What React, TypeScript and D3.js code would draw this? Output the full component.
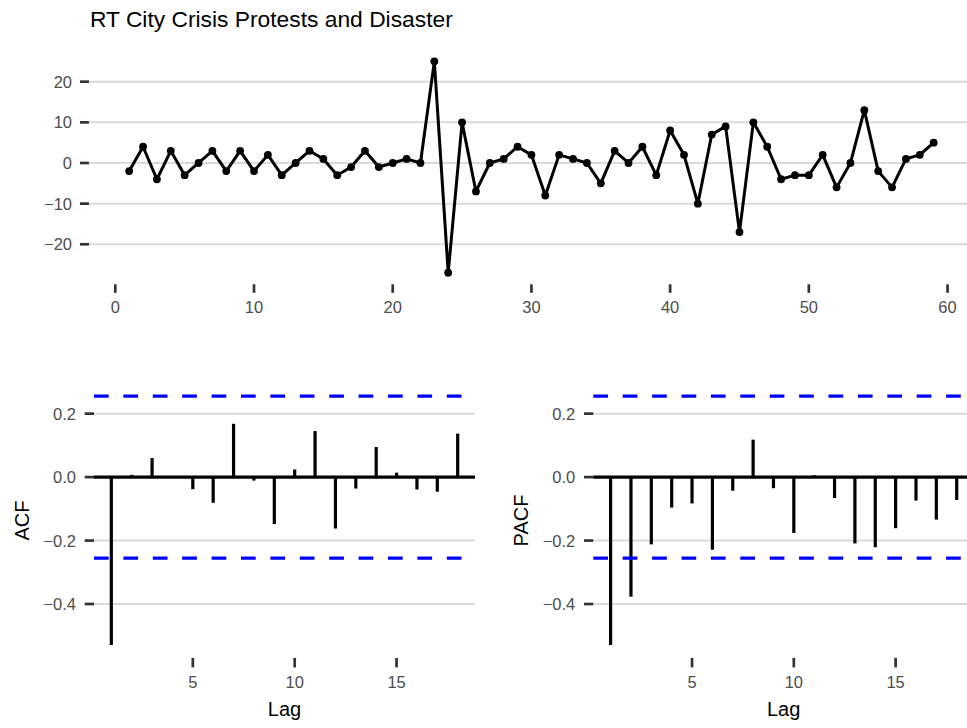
import React from "react";
import * as d3 from "d3";

const title = "RT City Crisis Protests and Disaster";
const seriesValues: number[] = [
  -2, 4, -4, 3, -3, 0, 3, -2, 3, -2,
  2, -3, 0, 3, 1, -3, -1, 3, -1, 0,
  1, 0, 25, -27, 10, -7, 0, 1, 4, 2,
  -8, 2, 1, 0, -5, 3, 0, 4, -3, 8,
  2, -10, 7, 9, -17, 10, 4, -4, -3, -3,
  2, -6, 0, 13, -2, -6, 1, 2, 5,
];
const acfValues: number[] = [
  -0.529, 0.007, 0.06, 0.001, -0.038, -0.081, 0.168, -0.011, -0.148,
  0.024, 0.145, -0.162, -0.036, 0.095, 0.014, -0.039, -0.046, 0.137,
];
const pacfValues: number[] = [
  -0.529, -0.377, -0.212, -0.096, -0.083, -0.229, -0.043, 0.118, -0.035,
  -0.176, 0.006, -0.066, -0.209, -0.221, -0.161, -0.074, -0.134, -0.072,
];
const topXTicks = [0, 10, 20, 30, 40, 50, 60];
const topYTicks = [-20, -10, 0, 10, 20];
const lagTicks = [5, 10, 15];
const corrYTicks = [-0.4, -0.2, 0, 0.2];

const FONT = "'Liberation Sans', Arial, Helvetica, sans-serif";
const GRID = "#DADADA";
const TICK = "#333333";
const TICKTXT = "#4D4D4D";

function fmtNum(v: number, digits: number) {
  const s = v.toFixed(digits);
  return s.replace("-", "\u2212");
}

function expand(lo: number, hi: number, f = 0.05): [number, number] {
  const r = hi - lo;
  return [lo - r * f, hi + r * f];
}

function TopPanel() {
  const n = seriesValues.length;
  const xs = seriesValues.map((_, i) => i + 1);
  const x = d3.scaleLinear().domain(expand(1, n)).range([88.95, 973.9]);
  const ext = d3.extent(seriesValues) as [number, number];
  const y = d3.scaleLinear().domain(expand(ext[0], ext[1])).range([283.3, 50.8]);
  const line = d3
    .line<number>()
    .x((_, i) => x(xs[i]))
    .y((d) => y(d));
  const [x0, x1] = x.range();
  const yBottom = y.range()[0];
  return (
    <g>
      {topYTicks.map((t) => (
        <g key={"g" + t}>
          <line x1={x0} x2={x1} y1={y(t)} y2={y(t)} stroke={GRID} strokeWidth={2} />
          <line x1={80} x2={x0} y1={y(t)} y2={y(t)} stroke={TICK} strokeWidth={2.7} />
          <text x={72} y={y(t)} dy="0.36em" textAnchor="end" fontSize={16.5} fill={TICKTXT} fontFamily={FONT}>
            {fmtNum(t, 0)}
          </text>
        </g>
      ))}
      {topXTicks.map((t) => (
        <g key={"x" + t}>
          <line x1={x(t)} x2={x(t)} y1={yBottom + 1} y2={yBottom + 9.5} stroke={TICK} strokeWidth={2.7} />
          <text x={x(t)} y={313} textAnchor="middle" fontSize={16.5} fill={TICKTXT} fontFamily={FONT}>
            {t}
          </text>
        </g>
      ))}
      <path d={line(seriesValues) || ""} fill="none" stroke="#000" strokeWidth={3} strokeLinejoin="round" />
      {seriesValues.map((v, i) => (
        <circle key={i} cx={x(xs[i])} cy={y(v)} r={3.9} fill="#000" />
      ))}
    </g>
  );
}

function CorrPanel({
  values,
  label,
  range,
  labelX,
}: {
  values: number[];
  label: string;
  range: [number, number];
  labelX: number;
}) {
  const nObs = seriesValues.length;
  const ci = 1.96 / Math.sqrt(nObs);
  const lags = values.map((_, i) => i + 1);
  const x = d3.scaleLinear().domain(expand(1, values.length)).range(range);
  const lo = Math.min(d3.min(acfValues)!, d3.min(pacfValues)!, -ci);
  const hi = Math.max(d3.max(acfValues)!, d3.max(pacfValues)!, ci);
  const y = d3.scaleLinear().domain(expand(lo, hi)).range([657.4, 383.7]);
  const [x0, x1] = range;
  const yBottom = y.range()[0];
  return (
    <g>
      {corrYTicks.map((t) => (
        <g key={"g" + t}>
          <line x1={x0} x2={x1} y1={y(t)} y2={y(t)} stroke={GRID} strokeWidth={2} />
          <line x1={x0 - 9.3} x2={x0} y1={y(t)} y2={y(t)} stroke={TICK} strokeWidth={2.7} />
          <text x={x0 - 18} y={y(t)} dy="0.36em" textAnchor="end" fontSize={16.5} fill={TICKTXT} fontFamily={FONT}>
            {fmtNum(t, 1)}
          </text>
        </g>
      ))}
      {lagTicks.map((t) => (
        <g key={"x" + t}>
          <line x1={x(t)} x2={x(t)} y1={yBottom + 0.5} y2={yBottom + 10} stroke={TICK} strokeWidth={2.7} />
          <text x={x(t)} y={688} textAnchor="middle" fontSize={16.5} fill={TICKTXT} fontFamily={FONT}>
            {t}
          </text>
        </g>
      ))}
      <line x1={x0} x2={x1} y1={y(0)} y2={y(0)} stroke="#000" strokeWidth={3.2} />
      {values.map((v, i) => (
        <line key={i} x1={x(lags[i])} x2={x(lags[i])} y1={y(0)} y2={y(v)} stroke="#000" strokeWidth={3.2} />
      ))}
      {[ci, -ci].map((c) => (
        <line
          key={c}
          x1={x0}
          x2={x1}
          y1={y(c)}
          y2={y(c)}
          stroke="#0000FF"
          strokeWidth={3.2}
          strokeDasharray="14.7 14.7"
        />
      ))}
      <text
        transform={`translate(${labelX},520.5) rotate(-90)`}
        dy="0.36em"
        textAnchor="middle"
        fontSize={20}
        fill="#000"
        fontFamily={FONT}
      >
        {label}
      </text>
      <text x={(x0 + x1) / 2} y={716} textAnchor="middle" fontSize={20} fill="#000" fontFamily={FONT}>
        Lag
      </text>
    </g>
  );
}

export default function App() {
  return (
    <div style={{ position: "absolute", left: 0, top: 0, width: 967, height: 728, overflow: "hidden" }}>
      <svg width={967} height={728} viewBox="0 0 967 728" style={{ display: "block", background: "#fff" }}>
        <rect x={0} y={0} width={967} height={728} fill="#fff" />
        <text x={90} y={27} fontSize={22.8} fill="#000" fontFamily={FONT}>
          {title}
        </text>
        <TopPanel />
        <CorrPanel values={acfValues} label="ACF" range={[94, 475]} labelX={21.7} />
        <CorrPanel values={pacfValues} label="PACF" range={[593.3, 974]} labelX={520.8} />
      </svg>
    </div>
  );
}
